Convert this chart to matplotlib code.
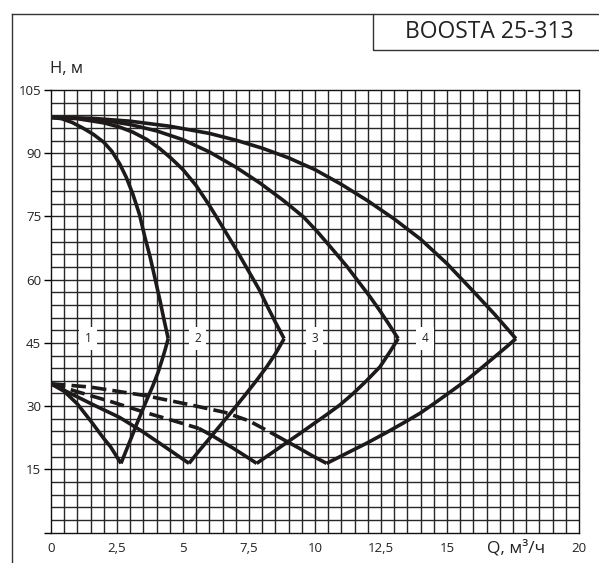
#BOOSTA 25-313 pump curves
import numpy as np
import matplotlib.pyplot as plt
from matplotlib.lines import Line2D
from matplotlib.patches import Rectangle

plt.rcParams['font.family'] = ['Open Sans', 'DejaVu Sans']

title = "BOOSTA 25-313"

#Upper branches (speed 1..4), Q in m3/h, H in m
q1_up = [0, 0.4, 0.8, 1.2, 1.6, 2.0, 2.3, 2.6, 2.85, 3.1, 3.35, 3.56, 3.75, 3.95, 4.13, 4.28, 4.44]
h1_up = [98.5, 98.2, 97.3, 96.0, 94.5, 92.6, 90.5, 87.5, 84.3, 80.3, 75.5, 70.0, 65.5, 60.0, 55.0, 50.5, 46.0]

q2_up = [0, 1, 2, 2.6, 3.1, 3.62, 4.1, 4.55, 5.0, 5.5, 6.0, 6.5, 7.0, 7.45, 7.9, 8.2, 8.5, 8.83]
h2_up = [98.5, 98.2, 97.2, 96.2, 95.0, 93.3, 91.2, 88.8, 86.1, 82.3, 77.6, 72.5, 67.3, 62.4, 57.5, 53.6, 49.9, 46.0]

q3_up = [0, 1, 2, 3, 4, 5, 6, 7, 7.92, 8.8, 9.56, 10.1, 10.69, 11.2, 11.7, 12.1, 12.46, 12.8, 13.15]
h3_up = [98.5, 98.3, 97.8, 96.8, 95.3, 93.2, 90.3, 86.7, 82.9, 78.8, 74.9, 71.3, 67.0, 63.2, 59.1, 55.8, 52.6, 49.4, 46.0]

q4_up = [0, 1.5, 3, 4.5, 6, 7, 8, 9, 10, 11, 12, 13, 14, 15, 16, 16.8, 17.61]
h4_up = [98.5, 98.3, 97.6, 96.4, 94.7, 93.1, 91.2, 88.9, 86.1, 82.6, 78.7, 74.4, 69.6, 63.8, 57.2, 51.8, 46.0]

#Rising branches from minimum to the tip
q1_rise = [2.65, 2.85, 3.05, 3.25, 3.45, 3.65, 3.85, 4.05, 4.2, 4.32, 4.44]
h1_rise = [16.4, 19.5, 22.6, 25.8, 28.8, 31.8, 34.7, 37.9, 40.8, 43.3, 46.0]

q2_rise = [5.23, 5.6, 6.0, 6.45, 6.9, 7.35, 7.8, 8.17, 8.5, 8.83]
h2_rise = [16.4, 19.3, 22.3, 25.7, 29.1, 32.6, 36.2, 39.3, 42.4, 46.0]

q3_rise = [7.79, 8.3, 8.85, 9.43, 9.95, 10.45, 10.95, 11.45, 11.95, 12.46, 12.85, 13.15]
h3_rise = [16.4, 18.6, 21.0, 23.5, 25.8, 28.0, 30.3, 33.0, 36.0, 39.3, 43.0, 46.0]

q4_rise = [10.44, 11.2, 11.96, 12.7, 13.35, 13.98, 14.6, 15.2, 15.75, 16.2, 16.6, 17.0, 17.3, 17.61]
h4_rise = [16.4, 18.8, 21.2, 23.7, 26.0, 28.3, 31.0, 33.7, 36.2, 38.5, 40.6, 42.7, 44.3, 46.0]

#Falling branches from shut-off point to the minimum
q1_low = [0, 0.5, 1.0, 1.5, 2.0, 2.25, 2.65]
h1_low = [35.3, 33.5, 30.5, 26.5, 22.3, 20.4, 16.4]

q2_low = [0, 0.8, 1.67, 2.6, 3.43, 4.3, 5.23]
h2_low = [35.3, 32.8, 30.1, 27.3, 24.1, 20.4, 16.4]

q3_dash = [0, 1.0, 2.3, 3.56, 4.6, 5.6]
h3_dash = [35.3, 33.4, 31.0, 28.5, 26.6, 24.7]
q3_low = [5.6, 6.1, 6.5, 6.9, 7.2, 7.5, 7.79]
h3_low = [24.7, 23.0, 21.5, 20.0, 18.8, 17.6, 16.4]

q4_dash = [0, 1.5, 3.56, 5.2, 6.59, 7.5, 8.3]
h4_dash = [35.3, 34.5, 32.5, 30.4, 28.5, 26.5, 23.8]
q4_low = [8.3, 8.85, 9.4, 9.9, 10.44]
h4_low = [23.8, 21.9, 20.0, 18.2, 16.4]

labels = ["1", "2", "3", "4"]
label_q = [1.41, 5.56, 9.98, 14.17]
label_h = 46

x_ticks = [0, 2.5, 5, 7.5, 10, 12.5, 15, 20]
x_ticklabels = ["0", "2,5", "5", "7,5", "10", "12,5", "15", "20"]
y_ticks = [0, 15, 30, 45, 60, 75, 90, 105]
y_ticklabels = ["", "15", "30", "45", "60", "75", "90", "105"]


def main():
    fig = plt.figure(figsize=(5.99, 5.63), dpi=100)
    ax = fig.add_axes([51/599, 1-532.5/563, 528/599, 442.5/563])

    ax.set_xlim(0, 20)
    ax.set_ylim(0, 105)

    #grid
    gc = '#262626'
    for x in np.arange(0.5, 20, 0.5):
        ax.axvline(x, color=gc, lw=1.0, zorder=1)
    for y in np.arange(3, 105, 3):
        ax.axhline(y, color=gc, lw=1.0, zorder=1)

    lw = 2.6
    c = '#1e1a1a'
    for q, h in [(q1_up, h1_up), (q2_up, h2_up), (q3_up, h3_up), (q4_up, h4_up),
                 (q1_rise, h1_rise), (q2_rise, h2_rise), (q3_rise, h3_rise), (q4_rise, h4_rise),
                 (q1_low, h1_low), (q2_low, h2_low), (q3_low, h3_low), (q4_low, h4_low)]:
        ax.plot(q, h, color=c, lw=lw, solid_capstyle='butt', solid_joinstyle='round', zorder=3)
    for q, h in [(q3_dash, h3_dash), (q4_dash, h4_dash)]:
        ax.plot(q, h, color=c, lw=lw, ls=(0, (4.0, 1.7)), dash_capstyle='butt', zorder=3)

    for lab, q in zip(labels, label_q):
        ax.text(q, label_h, lab, ha='center', va='center', fontsize=8.5, color='#222',
                bbox=dict(boxstyle='square,pad=0.45', fc='white', ec='none'), zorder=2)

    for s in ax.spines.values():
        s.set_color('#111')
        s.set_linewidth(1.0)

    ax.set_xticks(x_ticks)
    ax.set_xticklabels(x_ticklabels)
    ax.set_yticks(y_ticks)
    ax.set_yticklabels(y_ticklabels)
    ax.tick_params(axis='x', length=0, pad=7, labelsize=9.5, labelcolor='#222')
    ax.tick_params(axis='y', length=5, width=1.0, pad=2, labelsize=9.5, labelcolor='#222')

    fig.text(50/599, 1-69/563, "H, м", fontsize=12, ha='left', va='center', color='#222')
    fig.text(516/599, 1-548/563, "Q, м³/ч", fontsize=12.5, ha='center', va='center', color='#222')

    #outer frame and title box
    fig.add_artist(Line2D([11.5/599, 11.5/599], [0, 1-14/563], color='#333', lw=1.0))
    fig.add_artist(Line2D([11.5/599, 373/599], [1-14/563, 1-14/563], color='#333', lw=1.0))
    fig.add_artist(Rectangle((373/599, 1-50/563), 0.5, 36/563, fill=False, ec='#333', lw=1.0))
    fig.text(489/599, 1-32/563, title, fontsize=16.5, ha='center', va='center', color='#222')

    fig.savefig('out.png', dpi=100)


if __name__ == "__main__":
    main()
